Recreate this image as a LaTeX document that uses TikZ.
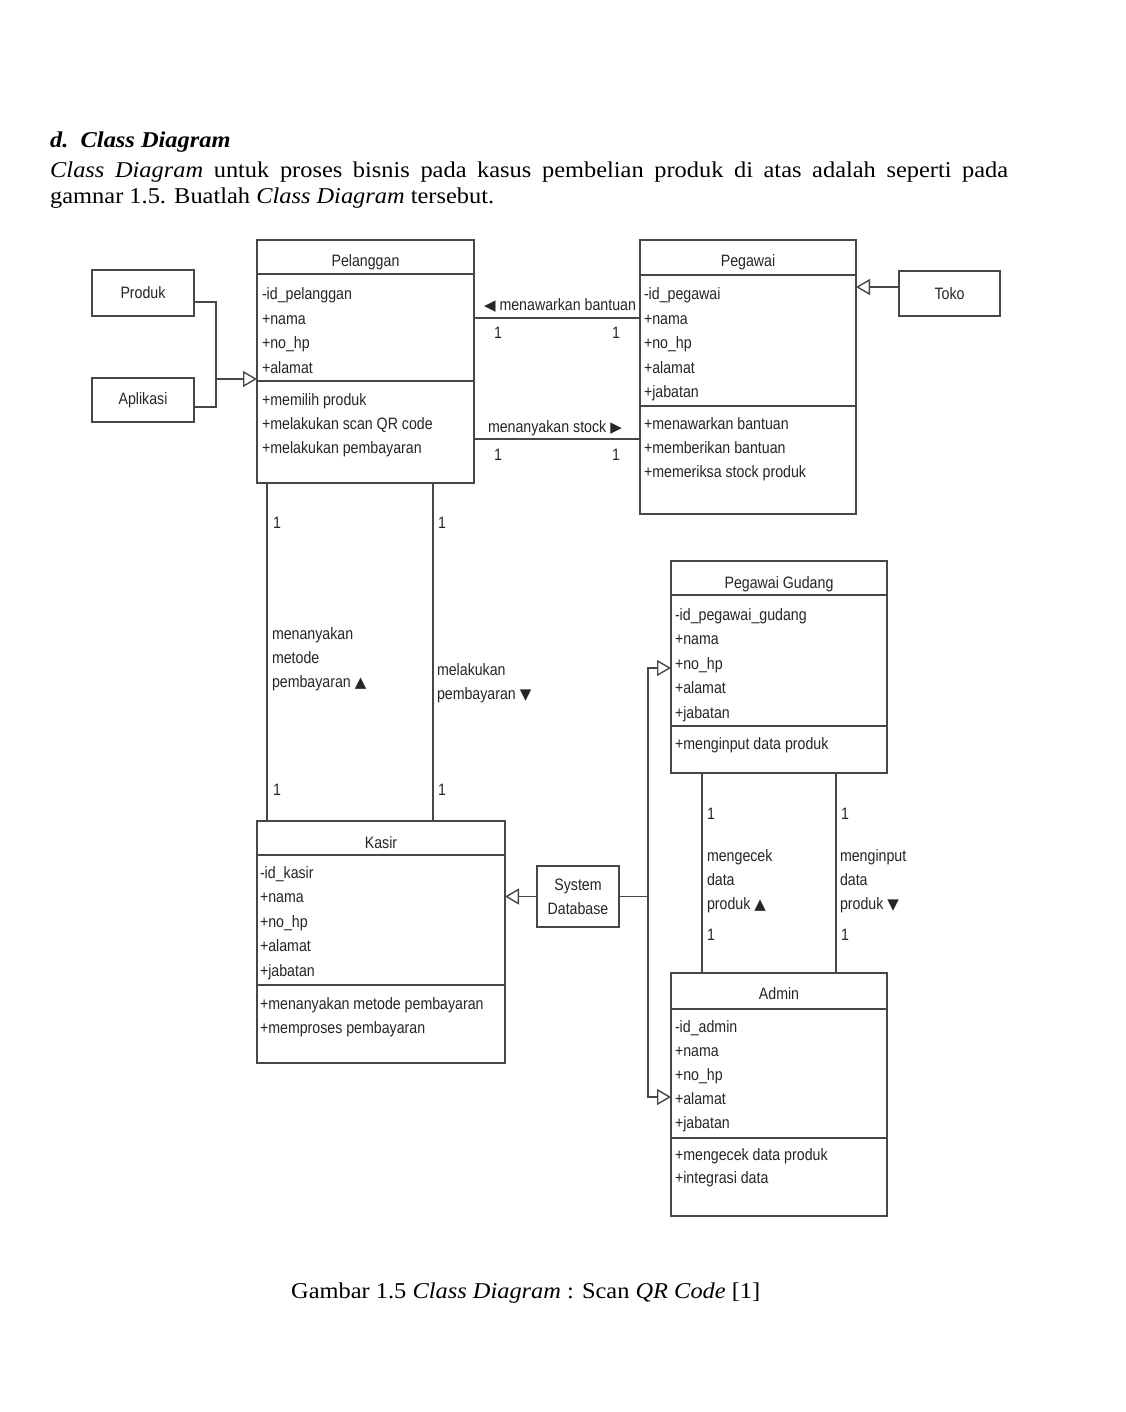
\documentclass[tikz,border=0pt]{standalone}
\usepackage{fontspec}
\setmainfont{Liberation Serif}[FakeStretch=1.08]
\newfontfamily\dgfont{Liberation Sans}[FakeStretch=0.86]
\newfontfamily\symfont{DejaVu Sans}
\usetikzlibrary{arrows.meta}
\tikzset{
  ln/.style={draw=black!72, line width=1.4pt},
  gen/.style={ln, -{Triangle[open, length=14pt, width=16pt, fill=white]}},
  cls/.style={ln, rectangle, inner sep=0pt, outer sep=0pt, anchor=north west},
  sbox/.style={ln, rectangle, inner sep=0pt, outer sep=0pt, font=\fontsize{16.5}{24}\selectfont\dgfont, text=black!85, align=center},
  dtext/.style={font=\fontsize{16.5}{18}\selectfont\dgfont, text=black!85, inner sep=0pt, outer sep=0pt},
  attr/.style={dtext, anchor=base west},
  ctitle/.style={dtext, anchor=base},
  ptext/.style={font=\fontsize{22.6}{26}\selectfont, inner sep=0pt, anchor=base west},
}
\newcommand{\tri}[1]{{\symfont\fontsize{15}{15}\selectfont #1}}
\begin{document}
\begin{tikzpicture}[x=1pt,y=-1pt]
\fill[white] (0,0) rectangle (1125,1412);
\path[use as bounding box] (0,0) rectangle (1125,1412);

% heading and paragraph
\node[ptext] (h) at (50,148) {\textbf{\textit{d.\ \ Class Diagram}}};
\node[ptext] (p1) at (50,178) {\makebox[958pt][s]{\textit{Class Diagram} untuk proses bisnis pada kasus pembelian produk di atas adalah seperti pada}};
\node[ptext] (p2) at (50,204) {gamnar 1.5. Buatlah \textit{Class Diagram} tersebut.};

% ---------- Pelanggan ----------
\node[cls, minimum width=217pt, minimum height=243pt] (pel) at (257,240) {};
\draw[ln] (pel.west |- 0,274) -- (pel.east |- 0,274);
\draw[ln] (pel.west |- 0,381) -- (pel.east |- 0,381);
\node[ctitle] (pel-t) at (365.5,267) {Pelanggan};
\foreach \t [count=\i] in {-id\_pelanggan,+nama,+no\_hp,+alamat}
  \node[attr] (pel-a\i) at (262,{300+24.4*(\i-1)}) {\t};
\foreach \t [count=\i] in {+memilih produk,+melakukan scan QR code,+melakukan pembayaran}
  \node[attr] (pel-m\i) at (262,{405+24*(\i-1)}) {\t};

% ---------- Produk / Aplikasi ----------
\node[sbox, minimum width=102pt, minimum height=46pt] (prod) at (143,293) {Produk};
\node[sbox, minimum width=102pt, minimum height=44pt] (apl) at (143,400) {Aplikasi};
\coordinate (j1) at (216,379);
\draw[ln] ([yshift=-9pt]prod.east) -| (j1);
\draw[ln] ([yshift=-7pt]apl.east) -| (j1);
\draw[gen] (j1) -- (pel.west |- j1);

% ---------- Pegawai ----------
\node[cls, minimum width=216pt, minimum height=274pt] (peg) at (640,240) {};
\draw[ln] (peg.west |- 0,275) -- (peg.east |- 0,275);
\draw[ln] (peg.west |- 0,406) -- (peg.east |- 0,406);
\node[ctitle] (peg-t) at (748,267) {Pegawai};
\foreach \t [count=\i] in {-id\_pegawai,+nama,+no\_hp,+alamat,+jabatan}
  \node[attr] (peg-a\i) at (644,{300+24.4*(\i-1)}) {\t};
\foreach \t [count=\i] in {+menawarkan bantuan,+memberikan bantuan,+memeriksa stock produk}
  \node[attr] (peg-m\i) at (644,{429+24*(\i-1)}) {\t};

% ---------- Toko ----------
\node[sbox, minimum width=101pt, minimum height=45pt] (toko) at (949.5,293.5) {Toko};
\coordinate (t1) at ([yshift=6.5pt]toko.west);
\draw[gen] (t1) -- (peg.east |- t1);

% associations Pelanggan - Pegawai
\draw[ln] (pel.east |- 0,318) -- (peg.west |- 0,318);
\node[attr, anchor=base east] (l1) at (636,310) {\tri{◀} menawarkan bantuan};
\node[attr] (m1) at (494,338) {1};
\node[attr] (m2) at (612,338) {1};
\draw[ln] (pel.east |- 0,439) -- (peg.west |- 0,439);
\node[attr] (l2) at (488,432) {menanyakan stock \tri{▶}};
\node[attr] (m3) at (494,460) {1};
\node[attr] (m4) at (612,460) {1};

% ---------- Kasir ----------
\node[cls, minimum width=248pt, minimum height=242pt] (kasir) at (257,821) {};
\draw[ln] (kasir.west |- 0,855) -- (kasir.east |- 0,855);
\draw[ln] (kasir.west |- 0,985) -- (kasir.east |- 0,985);
\node[ctitle] (kasir-t) at (381,848) {Kasir};
\foreach \t [count=\i] in {-id\_kasir,+nama,+no\_hp,+alamat,+jabatan}
  \node[attr] (kas-a\i) at (260,{878+24.5*(\i-1)}) {\t};
\foreach \t [count=\i] in {+menanyakan metode pembayaran,+memproses pembayaran}
  \node[attr] (kas-m\i) at (260,{1009+24*(\i-1)}) {\t};

% associations Pelanggan - Kasir
\draw[ln] (pel.south -| 267,0) -- (kasir.north -| 267,0);
\draw[ln] (pel.south -| 433,0) -- (kasir.north -| 433,0);
\node[attr] (m5) at (273,528) {1};
\node[attr] (m6) at (273,795) {1};
\node[attr] (l3a) at (272,639) {menanyakan};
\node[attr] (l3b) at (272,663) {metode};
\node[attr] (l3c) at (272,687) {pembayaran \tri{▲}};
\node[attr] (m7) at (438,528) {1};
\node[attr] (m8) at (438,795) {1};
\node[attr] (l4a) at (437,675) {melakukan};
\node[attr] (l4b) at (437,699) {pembayaran \tri{▼}};

% ---------- Pegawai Gudang ----------
\node[cls, minimum width=216pt, minimum height=212pt] (pg) at (671,561) {};
\draw[ln] (pg.west |- 0,595) -- (pg.east |- 0,595);
\draw[ln] (pg.west |- 0,726) -- (pg.east |- 0,726);
\node[ctitle] (pg-t) at (779,588) {Pegawai Gudang};
\foreach \t [count=\i] in {-id\_pegawai\_gudang,+nama,+no\_hp,+alamat,+jabatan}
  \node[attr] (pg-a\i) at (675,{620+24.5*(\i-1)}) {\t};
\node[attr] (pg-m1) at (675,749) {+menginput data produk};

% ---------- Admin ----------
\node[cls, minimum width=216pt, minimum height=243pt] (adm) at (671,973) {};
\draw[ln] (adm.west |- 0,1009) -- (adm.east |- 0,1009);
\draw[ln] (adm.west |- 0,1138) -- (adm.east |- 0,1138);
\node[ctitle] (adm-t) at (779,999) {Admin};
\foreach \t [count=\i] in {-id\_admin,+nama,+no\_hp,+alamat,+jabatan}
  \node[attr] (adm-a\i) at (675,{1032+24*(\i-1)}) {\t};
\foreach \t [count=\i] in {+mengecek data produk,+integrasi data}
  \node[attr] (adm-m\i) at (675,{1160+23.5*(\i-1)}) {\t};

% associations Pegawai Gudang - Admin
\draw[ln] (pg.south -| 702,0) -- (adm.north -| 702,0);
\draw[ln] (pg.south -| 836,0) -- (adm.north -| 836,0);
\node[attr] (m9) at (707,819) {1};
\node[attr] (m10) at (707,940) {1};
\node[attr] (l5a) at (707,861) {mengecek};
\node[attr] (l5b) at (707,885) {data};
\node[attr] (l5c) at (707,909) {produk \tri{▲}};
\node[attr] (m11) at (841,819) {1};
\node[attr] (m12) at (841,940) {1};
\node[attr] (l6a) at (840,861) {menginput};
\node[attr] (l6b) at (840,885) {data};
\node[attr] (l6c) at (840,909) {produk \tri{▼}};

% ---------- System Database ----------
\node[sbox, minimum width=82pt, minimum height=61pt] (sd) at (578,896.5) {System\\Database};
\coordinate (sdj) at (648,896.5);
\draw[gen] (sd.west) -- (kasir.east |- sd.west);
\draw[ln] (sd.east) -- (sdj);
\draw[gen] (sdj) |- (pg.west |- 0,668);
\draw[gen] (sdj) |- (adm.west |- 0,1097);

% caption
\node[ptext] (cap) at (291,1298) {Gambar 1.5 \textit{Class Diagram} : Scan \textit{QR Code} [1]};
\end{tikzpicture}
\end{document}
